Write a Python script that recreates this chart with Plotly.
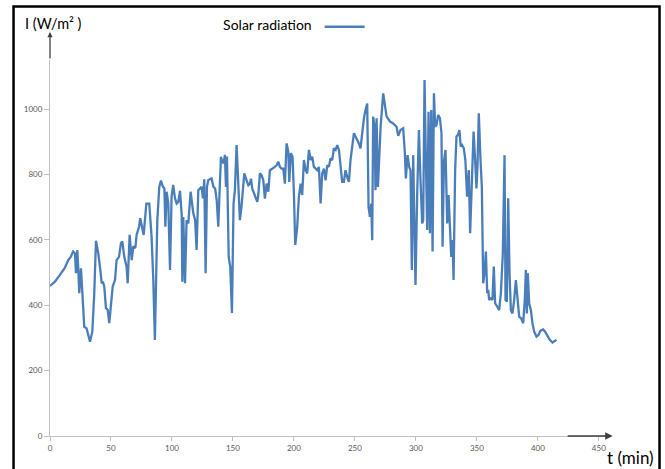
import plotly.graph_objects as go

# time in minutes
t_min = [0, 4, 8, 12, 15, 17, 19, 20.5, 21.3, 22.4, 23.2, 24, 25.4, 26.6, 28.1, 30, 32.8, 34.7, 36.3, 37.7,
         39.6, 41.3, 42.4, 43.4, 44.5, 45.9, 47.3, 48.6, 49.7, 51.4, 53.3, 54.6, 56.6, 58.2, 59.3, 60.9,
         62.8, 63.7, 65.3, 67, 68.3, 70, 71, 73, 74, 75.4, 76.8, 79, 81.4, 83.3, 84.7, 86, 88, 89.6, 91,
         92.6, 93.8, 94.6, 95.6, 97, 98.4, 99.7, 101, 102.5, 103.9, 105.2, 106.6, 108, 108.5, 109.3, 110.7,
         112, 113.4, 115.3, 117.5, 119, 120.2, 121.6, 123, 124.3, 125.4, 126.5, 127.6, 128.7, 129.8,
         132.5, 134, 135.4, 136.7, 138, 139.2, 140.2, 141.3, 142.4, 143.4, 144.3, 145.1, 145.8, 146.5,
         147.8, 149.2, 150.5, 151.6, 153, 155.7, 157, 159.3, 161.2, 162.6, 164, 164.8, 165.8, 167.2,
         168.6, 170, 170.8, 172.1, 173.5, 174.9, 176.2, 177.6, 179, 180.3, 182.5, 184.4, 185.8, 187.2,
         188.5, 189.9, 191.3, 192.6, 194, 195.4, 196.2, 197.5, 198.9, 200, 201.1, 202.7, 204.1, 205.5,
         206.8, 208.2, 209.6, 210.9, 212.3, 213.7, 215, 216.4, 217.8, 219.1, 220.5, 221.9, 223.2, 224.6,
         226, 227.3, 228.7, 230, 231.4, 232.8, 234.2, 235.5, 236.9, 238.3, 239.6, 241, 242.3, 243.7,
         245.1, 246.4, 247.8, 249.2, 250.5, 251.9, 253.3, 254.6, 256, 257.4, 258.7, 260.1, 261.2, 262.3,
         263.4, 264.2, 265, 266.1, 266.9, 267.8, 268.9, 270, 271.1, 273.2, 276, 278.7, 281.4, 284.2,
         285.5, 287.4, 289.6, 291, 291.8, 293.2, 294.5, 295.6, 296.7, 297.8, 299.7, 301.1, 302.5, 303.8,
         305.2, 306, 307.1, 308.2, 309.3, 310.4, 311.5, 312.6, 313.7, 314.8, 315.8, 316.9, 318.3, 319.7,
         321, 321.9, 323, 324.3, 325.7, 326.8, 327.9, 329, 330.1, 330.9, 332.2, 333.3, 334.6, 335.7,
         336.8, 337.9, 339.3, 340.6, 342, 343.4, 344.5, 345.9, 347.3, 348.6, 349.7, 350.5, 351.6, 353,
         354.1, 355.2, 356.3, 357.4, 358.5, 359.3, 360.1, 361.5, 362.8, 363.9, 365, 366.7, 368.3, 369.7,
         371.3, 372.7, 373.5, 374.6, 375.7, 376.8, 377.9, 379.2, 380.6, 382, 383.3, 384.7, 386.3, 388,
         389.3, 390.2, 391, 391.8, 392.9, 394.3, 395.6, 397, 398.9, 400.5, 402.2, 404.4, 406, 407.9,
         409.8, 412, 413.9, 415.3]

# solar radiation in W/m2
irradiance = [459, 472, 492, 513, 538, 548, 564, 558, 498, 569, 510, 437, 513, 447, 334, 329, 288, 319, 437, 597,
              558, 507, 467, 472, 457, 391, 386, 345, 396, 457, 477, 538, 548, 590, 595, 548,
              518, 467, 615, 538, 580, 575, 615, 640, 666, 640, 615, 711, 711, 609, 477, 294, 660, 762, 781,
              762, 757, 640, 747, 711, 508, 732, 768, 727, 711, 716, 750, 676, 472, 670, 467,
              660, 650, 747, 681, 660, 569, 752, 757, 762, 727, 785, 498, 762, 783,
              788, 762, 757, 721, 640, 762, 854, 839, 834, 860, 762, 855, 680, 548,
              518, 376, 711, 752, 890, 660, 701, 803, 782, 767, 772, 787, 757, 742,
              726, 716, 737, 803, 798, 782, 726, 772, 747, 813, 818, 823, 828, 839,
              823, 818, 818, 772, 895, 870, 777, 865, 854, 742, 584, 640, 732, 772,
              737, 844, 813, 803, 875, 844, 854, 823, 818, 813, 823, 711, 803, 818,
              782, 828, 823, 849, 844, 880, 875, 890, 875, 823, 777, 777, 813, 792,
              777, 844, 885, 926, 916, 906, 895, 880, 936, 972, 997, 1017, 701, 670,
              711, 599, 977, 946, 752, 972, 762, 859, 946, 1048, 977, 962, 956, 946,
              918, 936, 941, 864, 788, 859, 823, 813, 508, 859, 462, 743, 936, 783,
              650, 660, 1089, 844, 630, 992, 620, 997, 564, 1048, 946, 951, 982, 972,
              926, 579, 839, 875, 650, 737, 650, 548, 599, 477, 813, 916, 921, 936,
              885, 890, 880, 844, 732, 813, 620, 792, 931, 844, 757, 823, 987, 844,
              762, 467, 498, 564, 437, 447, 416, 421, 416, 518, 406, 396, 385, 437,
              558, 859, 416, 411, 727, 498, 385, 375, 416, 477, 416, 365, 360, 345,
              416, 508, 375, 498, 406, 385, 345, 319, 304, 309, 322, 326, 319, 304,
              294, 286, 292, 294]

x_ticks = [0, 50, 100, 150, 200, 250, 300, 350, 400, 450]
y_ticks = [0, 200, 400, 600, 800, 1000]

LINE_BLUE = "#4a7ebb"
FONT = "Lato, 'Open Sans', sans-serif"

fig = go.Figure()
fig.add_trace(go.Scatter(
    x=t_min, y=irradiance, mode="lines", name=" ",
    line=dict(color=LINE_BLUE, width=2.3),
    showlegend=True,
))

fig.update_layout(
    width=665, height=469,
    margin=dict(l=50, r=54, t=60, b=33, autoexpand=False),
    paper_bgcolor="white", plot_bgcolor="white",
    font=dict(family=FONT, color="#000000"),
    showlegend=True,
    legend=dict(
        title=dict(text="Solar radiation", side="left", font=dict(size=14, family=FONT, color="#000")),
        x=0.305, y=1.127, xanchor="left", yanchor="top",
        bgcolor="rgba(0,0,0,0)", itemwidth=40, font=dict(size=1),
    ),
    xaxis=dict(
        range=[0, 460], tickvals=x_ticks, ticktext=[str(v) for v in x_ticks],
        showgrid=False, zeroline=False, showline=True, linecolor="#bfbfbf", linewidth=1,
        ticks="outside", ticklen=4, tickcolor="#bfbfbf",
        tickfont=dict(size=8, color="#595959", family=FONT),
    ),
    yaxis=dict(
        range=[0, 1150], tickvals=y_ticks, ticktext=[str(v) for v in y_ticks],
        showgrid=False, zeroline=False, showline=True, linecolor="#bfbfbf", linewidth=1,
        ticks="outside", ticklen=5, tickcolor="#bfbfbf",
        tickfont=dict(size=8, color="#595959", family=FONT),
    ),
)

# outer frame
fig.add_shape(type="rect", xref="paper", yref="paper",
              x0=-0.065, x1=1.0865, y0=-0.12, y1=1.1423,
              line=dict(color="black", width=2.5), fillcolor="rgba(0,0,0,0)", layer="above")

# axis arrows
fig.add_annotation(xref="x domain", yref="y domain", axref="x domain", ayref="y domain",
                   x=1.003, y=0, ax=0.92, ay=0, text="", showarrow=True,
                   arrowhead=2, arrowsize=1, arrowwidth=1.5, arrowcolor="#404040")
fig.add_annotation(xref="x domain", yref="y domain", axref="x domain", ayref="y domain",
                   x=0.0, y=1.0745, ax=0.0, ay=1.0, text="", showarrow=True,
                   arrowhead=2, arrowsize=0.8, arrowwidth=1.3, arrowcolor="#404040")

# axis titles
fig.add_annotation(xref="paper", yref="paper", x=-0.048, y=1.096, xanchor="left", yanchor="middle",
                   text="I (W/m² )", showarrow=False, font=dict(size=14.5, family=FONT, color="#000"))
fig.add_annotation(xref="paper", yref="paper", x=0.99, y=-0.0585, xanchor="left", yanchor="middle",
                   text="t (min)", showarrow=False, font=dict(size=17, family=FONT, color="#000"))

fig.write_html(
    "out.html",
    config={"displayModeBar": False},
    post_script="document.body.style.margin='0';document.body.style.overflow='hidden';",
)
